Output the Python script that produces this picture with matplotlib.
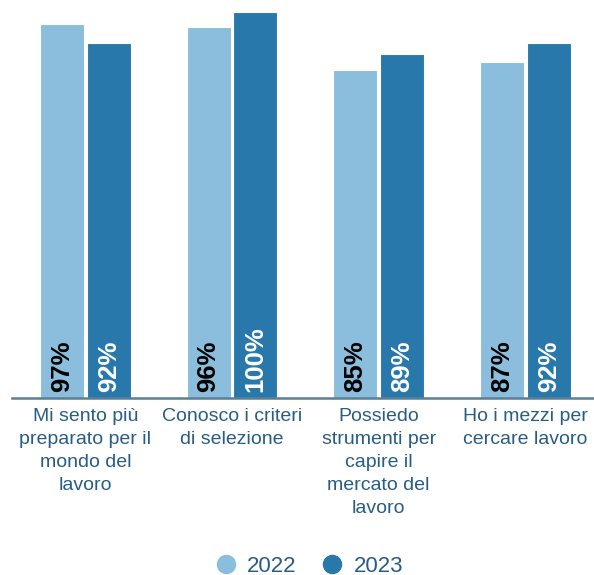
import numpy as np
import matplotlib.pyplot as plt
from matplotlib.lines import Line2D

plt.rcParams['font.family'] = ['Liberation Sans', 'DejaVu Sans']

categories = [
    "Mi sento più\npreparato per il\nmondo del\nlavoro",
    "Conosco i criteri\ndi selezione",
    "Possiedo\nstrumenti per\ncapire il\nmercato del\nlavoro",
    "Ho i mezzi per\ncercare lavoro",
]
years = ["2022", "2023"]
values_2022 = [97, 96, 85, 87]
values_2023 = [92, 100, 89, 92]

light = "#8bbddc"
dark = "#2878ac"
text_col = "#275d85"
axis_col = "#5a7e98"

fig = plt.figure(figsize=(5.94, 5.75), dpi=100)
ax = fig.add_axes([12 / 594, 177 / 575, 586.7 / 594, 386 / 575])

x = np.arange(len(categories))
w = 0.30
off = 0.16
b1 = ax.bar(x - off, values_2022, w, color=light, edgecolor="white", linewidth=0.8)
b2 = ax.bar(x + off, values_2023, w, color=dark, edgecolor="white", linewidth=0.8)

# percentage labels written upward from the base of each bar
for bars, vals, col in [(b1, values_2022, "black"), (b2, values_2023, "white")]:
    for rect, v in zip(bars, vals):
        ax.text(rect.get_x() + rect.get_width() / 2, 1.5, f"{v}%",
                rotation=90, ha="center", va="bottom", color=col,
                fontsize=18.5, fontweight="bold")

ax.set_xlim(-0.5, 3.5)
ax.set_ylim(0, 100)
ax.set_yticks([])
ax.set_xticks(x)
ax.set_xticklabels(categories, fontsize=14, color=text_col, linespacing=1.45)
ax.tick_params(axis="x", length=0, pad=7.5)
for s in ["top", "right", "left"]:
    ax.spines[s].set_visible(False)
ax.spines["bottom"].set_color(axis_col)
ax.spines["bottom"].set_linewidth(1.8)

handles = [Line2D([], [], marker="o", linestyle="", markersize=13, color=c)
           for c in (light, dark)]
fig.legend(handles, years, loc="center", bbox_to_anchor=(309 / 594, 1 - 566 / 575),
           ncol=2, frameon=False, fontsize=16, labelcolor=text_col,
           handlelength=1.0, handletextpad=0.45, columnspacing=1.1)

fig.savefig("out.png", dpi=100)
